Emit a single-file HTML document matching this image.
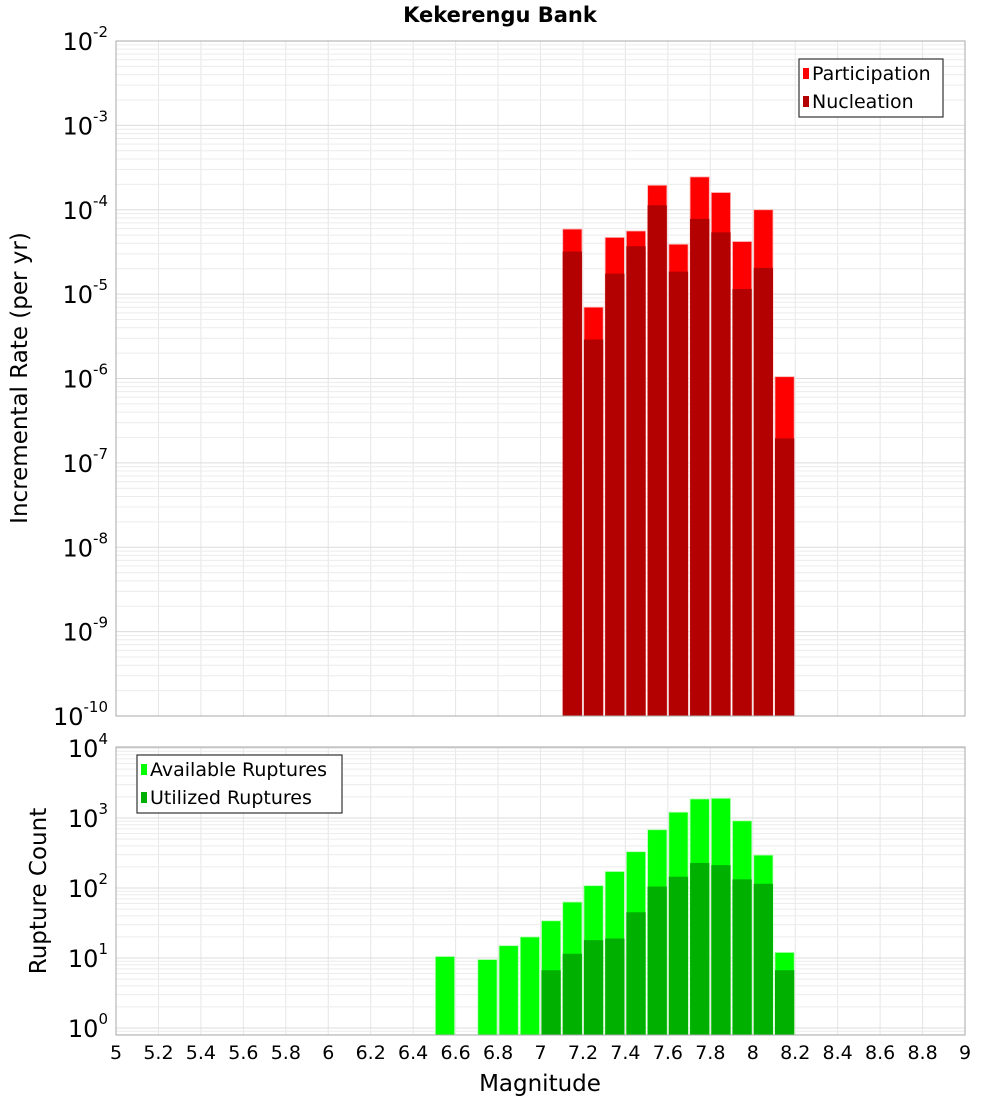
<!DOCTYPE html>
<html><head><meta charset="utf-8"><style>
body{margin:0;background:#fff;font-family:"Liberation Sans","DejaVu Sans",sans-serif}
svg text{font-family:"DejaVu Sans","Liberation Sans",sans-serif}
</style></head><body>
<svg id="c" width="1000" height="1100" xmlns="http://www.w3.org/2000/svg"></svg>
<script>
const binStartsTop=[7.1,7.2,7.3,7.4,7.5,7.6,7.7,7.8,7.9,8.0,8.1];
const participation=[5.9e-5,7.0e-6,4.7e-5,5.6e-5,1.95e-4,3.9e-5,2.45e-4,1.6e-4,4.2e-5,1.0e-4,1.05e-6];
const nucleation=[3.2e-5,2.9e-6,1.75e-5,3.7e-5,1.13e-4,1.85e-5,7.8e-5,5.4e-5,1.15e-5,2.05e-5,1.95e-7];
const binStartsBot=[6.5,6.7,6.8,6.9,7.0,7.1,7.2,7.3,7.4,7.5,7.6,7.7,7.8,7.9,8.0,8.1];
const available=[10.5,9.5,15,20,34,63,108,172,330,680,1210,1870,1910,910,295,12];
const utilized=[0,0,0,0,6.7,11.5,18,19,45,105,145,228,212,133,115,6.7];
const xTicks=[5,5.2,5.4,5.6,5.8,6,6.2,6.4,6.6,6.8,7,7.2,7.4,7.6,7.8,8,8.2,8.4,8.6,8.8,9];
const topExps=[-2,-3,-4,-5,-6,-7,-8,-9,-10];
const botExps=[4,3,2,1,0];

const NS="http://www.w3.org/2000/svg",svg=document.getElementById('c');
function el(t,a,p){const e=document.createElementNS(NS,t);for(const k in a)e.setAttribute(k,a[k]);(p||svg).appendChild(e);return e;}
const X0=116,X1=965;
const x=m=>X0+(m-5)/4*(X1-X0);
const T0=41,T1=716;
const yT=v=>T0+(-2-Math.log10(v))*(T1-T0)/8;
const B0=747,B1=1035;
const yB=v=>1028-Math.log10(v)*70;

function grid(top,bot,yf,lo,hi){
  const g=el('g',{});
  
  for(let m=5.2;m<9;m+=0.2){el('line',{x1:x(m),x2:x(m),y1:top,y2:bot,stroke:'#e6e6e6','stroke-width':1},g);}
  for(let e=lo;e<=hi;e++)for(let k=1;k<10;k++){const y=yf(k*Math.pow(10,e));if(y>top&&y<bot)el('line',{x1:X0,x2:X1,y1:y,y2:y,stroke:k==1?'#dcdcdc':'#ececec','stroke-width':1},g);}
}
grid(T0,T1,yT,-10,-2);
grid(B0,B1,yB,-1,4);

const bw=x(5.1)-x(5);
binStartsTop.forEach((m,i)=>{
  let r=el('rect',{x:x(m)+1,y:yT(participation[i]),width:bw-2,height:T1-yT(participation[i]),fill:'#ff0000',stroke:'#ffb0b0','stroke-width':0.8});
  
  r=el('rect',{x:x(m)+1,y:yT(nucleation[i]),width:bw-2,height:T1-yT(nucleation[i]),fill:'#b30000'});
  
});
binStartsBot.forEach((m,i)=>{
  let r=el('rect',{x:x(m)+1,y:yB(available[i]),width:bw-2,height:B1-yB(available[i]),fill:'#00ff00',stroke:'#b0ffb0','stroke-width':0.8});
  
  if(utilized[i]>0){r=el('rect',{x:x(m)+1,y:yB(utilized[i]),width:bw-2,height:B1-yB(utilized[i]),fill:'#00b000'});
  }
});
el('rect',{x:X0,y:T0,width:X1-X0,height:T1-T0,fill:'none',stroke:'#aaa'});
el('rect',{x:X0,y:B0,width:X1-X0,height:B1-B0,fill:'none',stroke:'#aaa'});

function powLabel(yc,e,name){
  const t=el('text',{x:108,y:yc+9,'text-anchor':'end','font-size':24,fill:'#000'});
  
  const a=document.createElementNS(NS,'tspan');a.textContent='10';t.appendChild(a);
  const b=document.createElementNS(NS,'tspan');b.setAttribute('dy','-13');b.setAttribute('font-size','15');b.textContent=String(e);t.appendChild(b);
}
topExps.forEach(e=>powLabel(yT(Math.pow(10,e)),e,'top-y-tick-label'));
botExps.forEach(e=>powLabel(yB(Math.pow(10,e)),e,'bottom-y-tick-label'));
xTicks.forEach(m=>{const t=el('text',{x:x(m),y:1059,'text-anchor':'middle','font-size':19});t.textContent=String(m);
  });

function txt(s,a,name){const t=el('text',a);t.textContent=s;return t;}
txt('Kekerengu Bank',{x:500,y:22,'text-anchor':'middle','font-size':21,'font-weight':'bold'},'chart-title');
txt('Incremental Rate (per yr)',{x:0,y:0,transform:'translate(27,378) rotate(-90)','text-anchor':'middle','font-size':23},'top-y-axis-title');
txt('Rupture Count',{x:0,y:0,transform:'translate(46,891) rotate(-90)','text-anchor':'middle','font-size':23},'bottom-y-axis-title');
txt('Magnitude',{x:540,y:1091,'text-anchor':'middle','font-size':23},'x-axis-title');

function legend(x0,y0,w,items,name){
  const g=el('g',{});
  el('rect',{x:x0,y:y0,width:w,height:58,fill:'#fff',stroke:'#333','stroke-width':1.2},g);
  items.forEach((it,i)=>{el('rect',{x:x0+4,y:y0+9+i*28,width:6,height:11,fill:it[1]},g);
    const t=el('text',{x:x0+13,y:y0+21+i*28,'font-size':19},g);t.textContent=it[0];
    });
}
legend(799,59,144,[['Participation','#ff0000'],['Nucleation','#b30000']],'top-legend');
legend(137,755,205,[['Available Ruptures','#00ff00'],['Utilized Ruptures','#00b000']],'bottom-legend');
</script>
</body></html>
